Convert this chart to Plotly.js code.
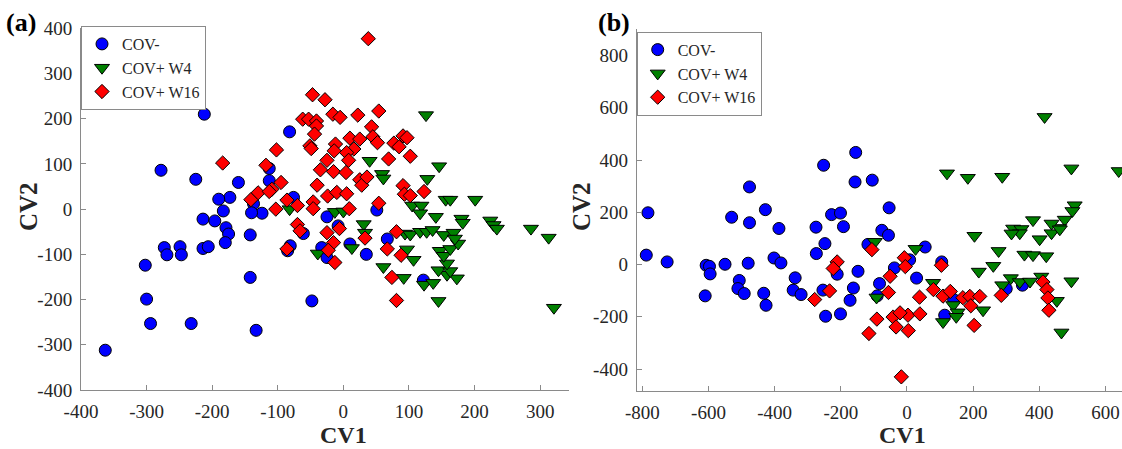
<!DOCTYPE html>
<html>
<head>
<meta charset="utf-8">
<script src="https://cdn.plot.ly/plotly-3.0.1.min.js"></script>
<style>html,body{margin:0;padding:0;background:#fff;}#chart{width:1122px;height:449px;}</style>
</head>
<body>
<div id="chart"></div>
<script>
// ---- Data ----
const groupNames = ["COV-", "COV+ W4", "COV+ W16"];

// Panel (a)
const aNegX = [-212,-278,-225,-160,-173,-190,-183,-82,-113,-113,-76,-137,-124,-140,-214,-196,-179,-175,-180,-273,-269,-249,-247,-214,-206,-302,-300,-294,-232,-363,-142,-142,-133,-85,-81,-61,-48,-25,-8,-33,-25,10,35,51,67,122];
const aNegY = [210,86,66,59,26,22,-4,171,90,63,26,12,-9,-8,-22,-26,-41,-55,-74,-85,-101,-83,-101,-87,-83,-124,-199,-253,-253,-312,-57,-151,-268,-92,-81,-54,-203,-17,-37,-85,-107,-77,-100,-2,-66,-157];
const aW4X = [126,40,146,59,61,128,156,163,201,105,119,117,-13,0,-82,141,180,224,229,31,33,94,102,117,127,136,153,168,182,234,286,313,321,61,92,123,145,137,158,173,145,163,158,147,153,163,175,107,97,-39,13,170];
const aW4Y = [208,107,95,78,68,67,21,21,21,8,8,-9,-6,-5,0,-17,-21,-25,-35,-33,-52,-54,-56,-50,-50,-46,-57,-52,-30,-43,-43,-63,-218,-128,-152,-167,-203,-163,-145,-153,-135,-137,-120,-92,-103,-88,-76,-112,-89,-98,-86,-65];
const aW16X = [38,-47,-28,-16,-5,22,54,-62,-53,-41,-41,-44,43,45,52,-51,-49,-12,-14,10,25,16,5,8,-25,-35,-15,4,25,28,36,69,77,85,91,97,102,-102,-95,-40,-24,-10,5,-86,-70,-46,-46,9,54,91,93,102,123,-184,-118,-130,-141,-109,-113,-103,-70,-66,-86,-25,-6,-15,-23,-13,33,67,81,88,74,81];
const aW16Y = [377,253,242,210,203,208,217,199,199,195,184,166,182,160,147,140,134,144,129,157,155,133,125,108,108,87,83,81,65,53,71,111,146,138,162,158,117,131,59,53,29,37,34,20,8,16,1,1,13,52,33,30,39,102,97,36,21,44,39,0,-34,-48,-88,-52,-43,-74,-91,-118,-64,-88,-50,-102,-151,-202];

// Panel (b)
const bNegX = [-783,-788,-725,-607,-597,-595,-610,-550,-530,-476,-480,-507,-511,-492,-428,-387,-402,-381,-433,-426,-338,-344,-320,-275,-274,-248,-228,-201,-254,-246,-201,-211,-192,-476,-252,-155,-157,-105,-54,-76,-56,-118,-148,-38,8,29,-83,-162,-172,55,105,114,300,349,-90,141];
const bNegY = [198,36,10,-3,-7,-36,-120,1,181,160,5,-61,-92,-111,210,138,25,6,-110,-156,-51,-98,-115,143,42,80,191,197,-98,-198,-189,-37,145,297,380,429,316,323,217,131,112,77,-26,-13,18,-52,-73,-90,-137,67,10,-194,-93,-79,-120,-134];
const bW4X = [416,121,184,288,497,640,507,500,477,460,437,381,321,346,341,437,401,204,277,355,381,421,261,217,314,288,341,372,406,497,453,467,230,140,153,109,26,79,-97,-92,316,462,149];
const bW4Y = [565,349,332,336,368,358,227,205,172,140,157,170,138,136,120,120,97,110,52,38,36,32,-5,-27,-52,-79,-67,-65,-46,-64,-139,-260,-175,-155,-183,-220,60,-70,87,-126,119,135,-200];
const bW16X = [-106,-8,-5,-211,-223,-234,-279,-51,-56,-91,-115,-42,-33,3,4,-21,39,-17,104,38,80,109,131,169,190,193,220,203,285,411,423,426,429];
const bW16Y = [57,26,-8,10,-15,-101,-134,-45,-107,-209,-264,-201,-239,-194,-253,-185,-189,-430,-3,-125,-96,-121,-103,-127,-122,-158,-122,-233,-118,-67,-96,-128,-175];

// Tick values and labels
const aXTicks = [-400,-300,-200,-100,0,100,200,300];
const aYTicks = [-400,-300,-200,-100,0,100,200,300,400];
const bXTicks = [-800,-600,-400,-200,0,200,400,600];
const bYTicks = [-400,-200,0,200,400,600,800];
const aXLabels = ["-400","-300","-200","-100","0","100","200","300"];
const aYLabels = ["-400","-300","-200","-100","0","100","200","300","400"];
const bXLabels = ["-800","-600","-400","-200","0","200","400","600"];
const bYLabels = ["-400","-200","0","200","400","600","800"];

// ---- Styles ----
const FONT = "'Liberation Serif', 'Times New Roman', serif";
const AX = '#8a8a8a';
const TXT = '#262626';
const styles = [
  {symbol: 'circle', color: '#0000ff', size: 12},
  {symbol: 'triangle-down', color: '#008000', size: 13},
  {symbol: 'diamond', color: '#ff0000', size: 11}
];
function tr(x, y, i, xa, ya, leg) {
  return {
    type: 'scatter', mode: 'markers', x: x, y: y, name: groupNames[i],
    xaxis: xa, yaxis: ya, legend: leg, cliponaxis: false,
    marker: {symbol: styles[i].symbol, color: styles[i].color, size: styles[i].size,
             line: {color: '#000000', width: 1}}
  };
}
const data = [
  tr(aNegX, aNegY, 0, 'x', 'y', 'legend'),
  tr(aW4X, aW4Y, 1, 'x', 'y', 'legend'),
  tr(aW16X, aW16Y, 2, 'x', 'y', 'legend'),
  tr(bNegX, bNegY, 0, 'x2', 'y2', 'legend2'),
  tr(bW4X, bW4Y, 1, 'x2', 'y2', 'legend2'),
  tr(bW16X, bW16Y, 2, 'x2', 'y2', 'legend2')
];

function axis(extra) {
  return Object.assign({
    showline: true, linecolor: AX, linewidth: 1, ticks: 'inside', ticklen: 5,
    tickcolor: AX, tickwidth: 1, showgrid: false, zeroline: false, mirror: false,
    tickfont: {family: FONT, size: 19, color: TXT}, ticklabelstandoff: 4,
    tickmode: 'array', fixedrange: true
  }, extra);
}
const W = 1122, H = 449;
const legendFont = {family: FONT, size: 16, color: TXT};
const layout = {
  width: W, height: H,
  margin: {l: 0, r: 0, t: 0, b: 0, pad: 0},
  paper_bgcolor: '#ffffff', plot_bgcolor: '#ffffff',
  font: {family: FONT, color: TXT},
  showlegend: true,
  xaxis: axis({domain: [81/W, 569/W], range: [-400, 344], tickvals: aXTicks, ticktext: aXLabels, anchor: 'y'}),
  yaxis: axis({domain: [1-390/H, 1-28.3/H], range: [-400, 400], tickvals: aYTicks, ticktext: aYLabels, anchor: 'x'}),
  xaxis2: axis({domain: [636.7/W, 1], range: [-817, 650], tickvals: bXTicks, ticktext: bXLabels, anchor: 'y2'}),
  yaxis2: axis({domain: [1-390.7/H, 1-29.4/H], range: [-483, 900], tickvals: bYTicks, ticktext: bYLabels, anchor: 'x2'}),
  legend: {x: 81/W, y: 1-26/H, xanchor: 'left', yanchor: 'top', bgcolor: '#ffffff',
           bordercolor: AX, borderwidth: 1, font: legendFont},
  legend2: {x: 636.7/W, y: 1-31.7/H, xanchor: 'left', yanchor: 'top', bgcolor: '#ffffff',
           bordercolor: AX, borderwidth: 1, font: legendFont},
  annotations: [
    {text: '<b>(a)</b>', xref: 'paper', yref: 'paper', x: 21/W, y: 1-23/H, xanchor: 'center', yanchor: 'middle', showarrow: false, font: {family: FONT, size: 26, color: '#000'}},
    {text: '<b>(b)</b>', xref: 'paper', yref: 'paper', x: 614/W, y: 1-23/H, xanchor: 'center', yanchor: 'middle', showarrow: false, font: {family: FONT, size: 26, color: '#000'}},
    {text: '<b>CV1</b>', xref: 'paper', yref: 'paper', x: 343/W, y: 1-435/H, xanchor: 'center', yanchor: 'middle', showarrow: false, font: {family: FONT, size: 24, color: TXT}},
    {text: '<b>CV1</b>', xref: 'paper', yref: 'paper', x: 902/W, y: 1-435/H, xanchor: 'center', yanchor: 'middle', showarrow: false, font: {family: FONT, size: 24, color: TXT}},
    {text: '<b>CV2</b>', xref: 'paper', yref: 'paper', x: 28/W, y: 1-207/H, xanchor: 'center', yanchor: 'middle', textangle: -90, showarrow: false, font: {family: FONT, size: 25, color: TXT}},
    {text: '<b>CV2</b>', xref: 'paper', yref: 'paper', x: 581/W, y: 1-207/H, xanchor: 'center', yanchor: 'middle', textangle: -90, showarrow: false, font: {family: FONT, size: 25, color: TXT}}
  ]
};
Plotly.newPlot('chart', data, layout, {staticPlot: true, displayModeBar: false});
</script>
</body>
</html>
